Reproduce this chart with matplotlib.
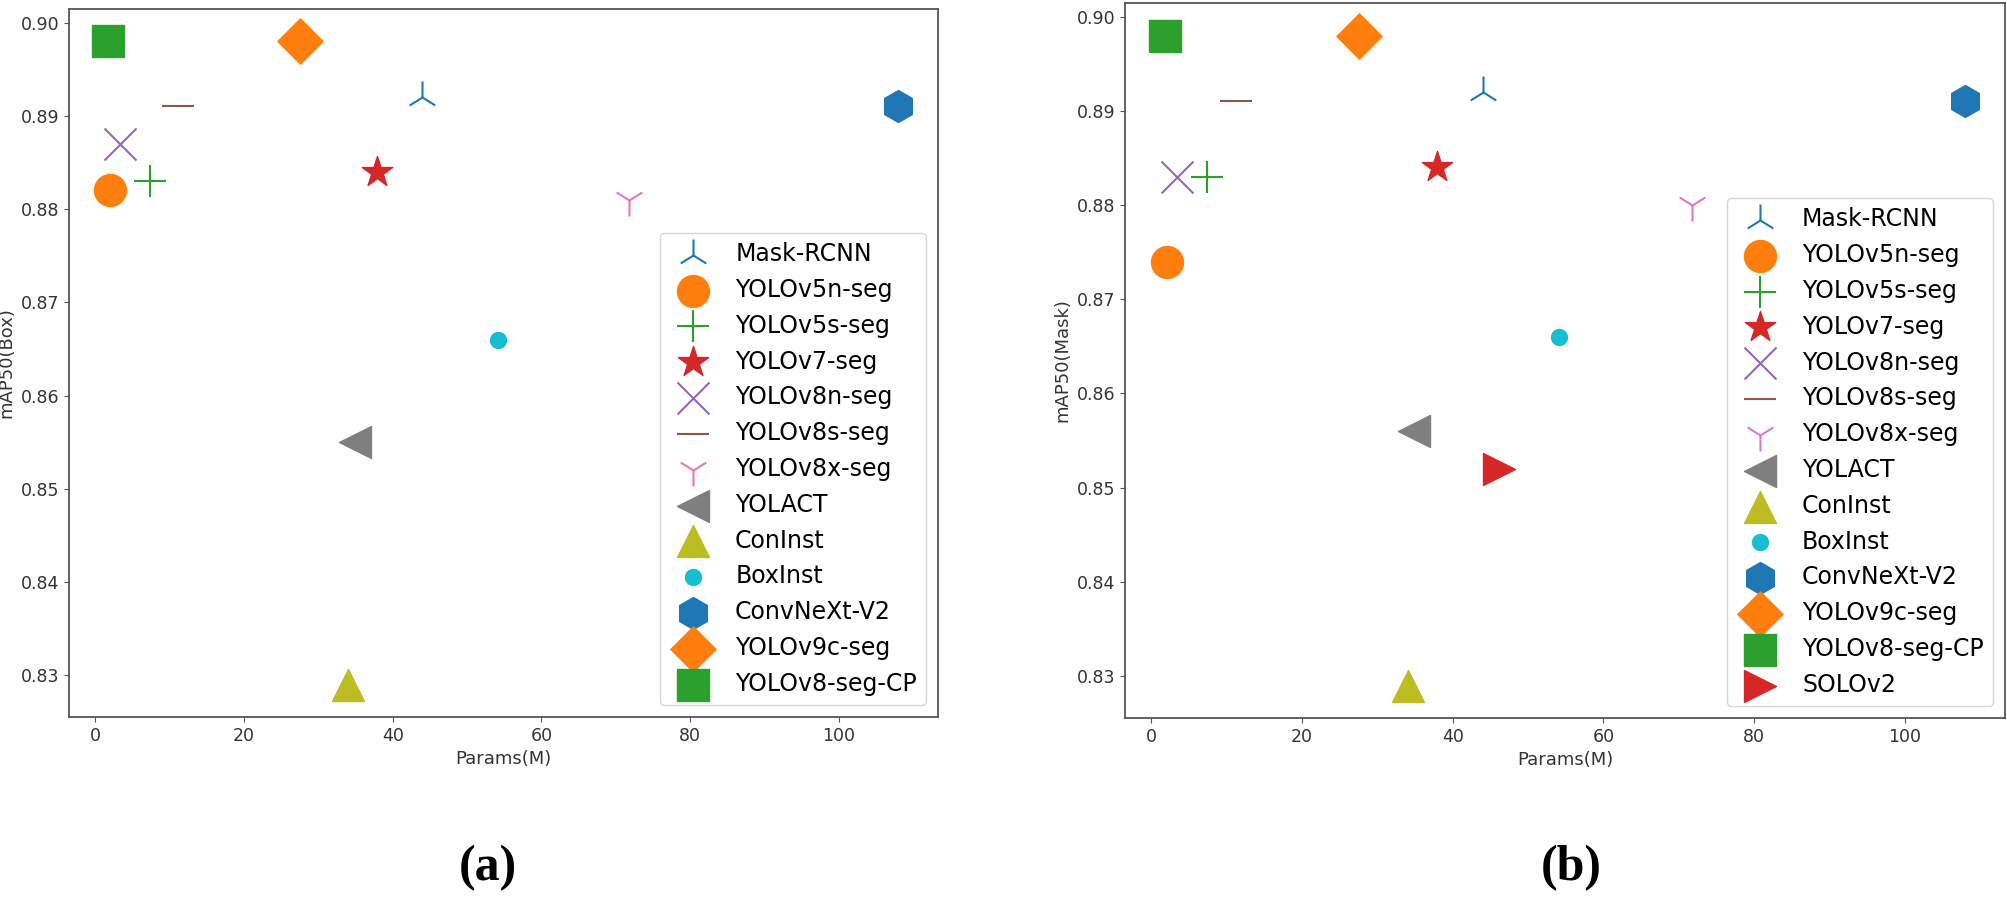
import matplotlib.pyplot as plt

# models and their values
names_box = ['Mask-RCNN', 'YOLOv5n-seg', 'YOLOv5s-seg', 'YOLOv7-seg', 'YOLOv8n-seg', 'YOLOv8s-seg',
             'YOLOv8x-seg', 'YOLACT', 'ConInst', 'BoxInst', 'ConvNeXt-V2', 'YOLOv9c-seg', 'YOLOv8-seg-CP']
params_box = [44.0, 2.0, 7.4, 37.9, 3.4, 11.2, 71.8, 34.9, 34.0, 54.1, 108.0, 27.6, 1.8]
map_box = [0.892, 0.882, 0.883, 0.884, 0.887, 0.891, 0.881, 0.855, 0.829, 0.866, 0.891, 0.898, 0.898]

names_mask = ['Mask-RCNN', 'YOLOv5n-seg', 'YOLOv5s-seg', 'YOLOv7-seg', 'YOLOv8n-seg', 'YOLOv8s-seg',
              'YOLOv8x-seg', 'YOLACT', 'ConInst', 'BoxInst', 'ConvNeXt-V2', 'YOLOv9c-seg', 'YOLOv8-seg-CP',
              'SOLOv2']
params_mask = [44.0, 2.0, 7.4, 37.9, 3.4, 11.2, 71.8, 34.9, 34.0, 54.1, 108.0, 27.6, 1.8, 46.2]
map_mask = [0.892, 0.874, 0.883, 0.884, 0.883, 0.891, 0.880, 0.856, 0.829, 0.866, 0.891, 0.898, 0.898, 0.852]

markers = ['2', 'o', '+', '*', 'x', '_', '1', '<', '^', '.', 'h', 'D', 's', '>']

W, H = 2008, 899
fig = plt.figure(figsize=(W / 100, H / 100), dpi=100)


def panel(box, names, xs, ys, ylabel):
    l, t, r, b = box
    ax = fig.add_axes([l / W, 1 - b / H, (r - l) / W, (b - t) / H])
    for i in range(len(names)):
        ax.scatter(xs[i], ys[i], s=530, marker=markers[i], color=f'C{i % 10}', label=names[i])
    ax.set_xlabel('Params(M)', fontsize=13, color='#333333')
    ax.set_ylabel(ylabel, fontsize=13, color='#333333')
    ax.tick_params(labelsize=12.5, labelcolor='#333333', color='#555555')
    for sp in ax.spines.values():
        sp.set_color('#555555')
        sp.set_linewidth(1.3)
    ax.legend(loc='lower right', fontsize=17)
    return ax


panel((69, 9, 938, 717), names_box, params_box, map_box, 'mAP50(Box)')
panel((1125, 3, 2005, 718), names_mask, params_mask, map_mask, 'mAP50(Mask)')

fig.text(488 / W, 1 - 868 / H, '(a)', fontsize=36, fontweight='bold', family='Liberation Serif',
         ha='center', va='center')
fig.text(1571 / W, 1 - 868 / H, '(b)', fontsize=36, fontweight='bold', family='Liberation Serif',
         ha='center', va='center')

fig.savefig('out.png', dpi=100)
